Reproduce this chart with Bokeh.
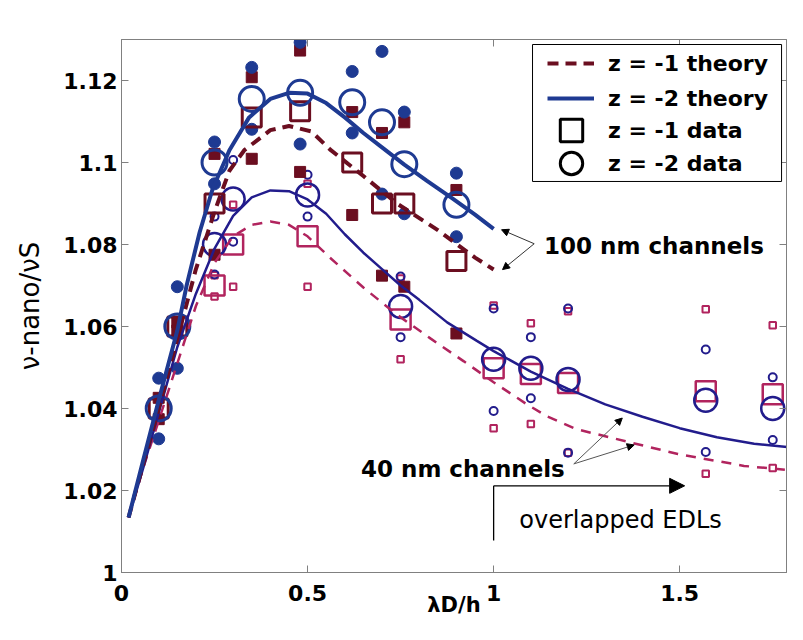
from bokeh.plotting import figure
from bokeh.models import (Range1d, FixedTicker, LinearAxis, Legend, LegendItem,
                          Label, Arrow, NormalHead, BoxAnnotation)
from bokeh.embed import file_html
from bokeh.resources import INLINE

# ---------------- data ----------------
x_ticks = [0, 0.5, 1, 1.5]
x_tick_labels = ["0", "0.5", "1", "1.5"]
y_ticks = [1.0, 1.02, 1.04, 1.06, 1.08, 1.1, 1.12]
y_tick_labels = ["1", "1.02", "1.04", "1.06", "1.08", "1.1", "1.12"]

# 100 nm channels
x_100 = [0.10, 0.15, 0.25, 0.35, 0.48, 0.62, 0.70, 0.76, 0.90]
z1_100_mean = [1.040, 1.060, 1.090, 1.111, 1.1125, 1.100, 1.090, 1.090, 1.076]
z2_100_mean = [1.040, 1.060, 1.100, 1.1155, 1.117, 1.1147, 1.1098, 1.0996, 1.0897]
z1_100_hi = [1.0426, 1.061, 1.1021, 1.1208, 1.1273, 1.1123, 1.1072, 1.1098, 1.0933]
z1_100_lo = [1.0374, 1.059, 1.0775, 1.1009, 1.0977, 1.0872, 1.0724, 1.0697, 1.0583]
z2_100_hi = [1.0474, 1.0697, 1.105, 1.1232, 1.1293, 1.1222, 1.1271, 1.1123, 1.0974]
z2_100_lo = [1.0326, 1.0498, 1.0948, 1.1081, 1.1045, 1.1072, 1.0923, 1.0875, 1.0819]

# 40 nm channels
x_40 = [0.25, 0.30, 0.50, 0.75, 1.0, 1.1, 1.2, 1.57, 1.75]
z1_40_mean = [1.070, 1.080, 1.082, 1.0617, 1.0498, 1.0484, 1.0462, 1.0442, 1.0435]
z2_40_mean = [1.080, 1.0911, 1.0921, 1.0649, 1.052, 1.0498, 1.0471, 1.042, 1.040]
z1_40_hi = [1.0725, 1.0897, 1.0948, 1.0717, 1.0651, 1.0608, 1.0637, 1.0642, 1.0603]
z1_40_lo = [1.0673, 1.0697, 1.0697, 1.052, 1.0352, 1.0362, 1.0292, 1.0241, 1.0255]
z2_40_hi = [1.0868, 1.1006, 1.097, 1.0722, 1.0644, 1.0574, 1.0644, 1.0544, 1.0476]
z2_40_lo = [1.0727, 1.0807, 1.0868, 1.0574, 1.0394, 1.0425, 1.0292, 1.0294, 1.0323]

# theory curves
th2_100_x = [0.019, 0.06, 0.10, 0.15, 0.175, 0.21, 0.245, 0.29, 0.343, 0.40, 0.45,
             0.50, 0.55, 0.60, 0.65, 0.70, 0.76, 0.82, 0.89, 0.95, 1.0]
th2_100_y = [1.0134, 1.028, 1.042, 1.059, 1.070, 1.083, 1.0936, 1.103, 1.111, 1.1155, 1.1170,
             1.1168, 1.1145, 1.1110, 1.1072, 1.1037, 1.0995, 1.0956, 1.0912, 1.0873, 1.0838]
th1_100_x = [0.019, 0.06, 0.10, 0.15, 0.20, 0.25, 0.29, 0.33, 0.40, 0.45, 0.51,
             0.56, 0.65, 0.74, 0.85, 0.95, 1.0]
th1_100_y = [1.0134, 1.027, 1.040, 1.057, 1.074, 1.088, 1.098, 1.103, 1.1079, 1.1089, 1.1076,
             1.1032, 1.0967, 1.0900, 1.0835, 1.0768, 1.0739]
th2_40_x = [0.019, 0.06, 0.10, 0.15, 0.20, 0.25, 0.30, 0.35, 0.40, 0.45, 0.50, 0.55, 0.60,
            0.65, 0.70, 0.75, 0.80, 0.875, 0.955, 1.0, 1.1, 1.2, 1.3, 1.4, 1.5, 1.6, 1.7, 1.8]
th2_40_y = [1.0134, 1.026, 1.039, 1.055, 1.068, 1.0790, 1.0870, 1.0915, 1.0932, 1.0930, 1.0910,
            1.0875, 1.0825, 1.0780, 1.0740, 1.0700, 1.0665, 1.0610, 1.0565, 1.0540, 1.0490,
            1.0448, 1.0410, 1.0380, 1.0352, 1.0330, 1.0314, 1.0305]
th1_40_x = [0.019, 0.06, 0.10, 0.15, 0.20, 0.25, 0.30, 0.35, 0.40, 0.45, 0.50, 0.56, 0.65,
            0.74, 0.83, 0.92, 1.0, 1.088, 1.141, 1.221, 1.319, 1.495, 1.673, 1.80]
th1_40_y = [1.0134, 1.026, 1.037, 1.051, 1.065, 1.0755, 1.0820, 1.0848, 1.0856, 1.0848, 1.0820,
            1.0768, 1.0695, 1.0629, 1.0571, 1.0515, 1.0464, 1.0411, 1.0382, 1.0350, 1.0328,
            1.0289, 1.0260, 1.0249]

# ---------------- styles ----------------
MAROON = "#6B0E20"
BLUE = "#1E3A92"
NAVY = "#221C8C"
CRIMSON = "#B1245E"
GRAY = "#808080"
FONT = "DejaVu Sans"

p = figure(width=787, height=624, output_backend="svg", toolbar_location=None,
           x_range=Range1d(0, 1.787), y_range=Range1d(1.0, 1.13),
           min_border_left=121, min_border_right=1, min_border_top=39,
           min_border_bottom=52)
p.xgrid.visible = False
p.ygrid.visible = False
p.outline_line_color = GRAY
p.background_fill_color = "white"
p.border_fill_color = "white"


def style_axis(ax, ticks, labels=None):
    ax.ticker = FixedTicker(ticks=ticks)
    ax.axis_line_color = GRAY
    ax.major_tick_line_color = GRAY
    ax.major_tick_in = 7
    ax.major_tick_out = 0
    ax.minor_tick_line_color = None
    if labels is None:
        ax.major_label_overrides = {t: "" for t in ticks}
        ax.major_label_standoff = 0
    else:
        ax.major_label_overrides = dict(zip(ticks, labels))
        ax.major_label_text_font = FONT
        ax.major_label_text_font_style = "bold"
        ax.major_label_text_font_size = "22px"
        ax.major_label_text_color = "black"


xb = p.below[0]
style_axis(xb, x_ticks, x_tick_labels)
xb.major_label_standoff = 12
xb.axis_label = "λD/h"
xb.axis_label_text_font = FONT
xb.axis_label_text_font_style = "bold"
xb.axis_label_text_font_size = "21px"
xb.axis_label_text_color = "black"
xb.axis_label_standoff = -11

yl = p.left[0]
style_axis(yl, y_ticks, y_tick_labels)
yl.major_label_standoff = 4
yl.axis_label = "ν-nano/νS"
yl.axis_label_text_font = FONT
yl.axis_label_text_font_style = "normal"
yl.axis_label_text_font_size = "26px"
yl.axis_label_text_color = "black"
yl.axis_label_standoff = 15

ax_top = LinearAxis()
style_axis(ax_top, x_ticks)
p.add_layout(ax_top, "above")
ax_right = LinearAxis()
style_axis(ax_right, y_ticks)
p.add_layout(ax_right, "right")

# legend sample glyphs: the square is hidden, the ring is tiny and lies under a filled dot
r_sq = p.rect(x=x_100[:1], y=z1_100_mean[:1], width=10, height=10,
              width_units="screen", height_units="screen",
              fill_color=None, line_color="black", line_width=3, visible=False)
r_ci = p.ellipse(x=x_100[3:4], y=z2_100_hi[3:4], width=1, height=1,
                 width_units="screen", height_units="screen",
                 fill_color=None, line_color="black", line_width=3)

# ---------------- 40 nm data ----------------
p.scatter(x_40 + x_40, z1_40_hi + z1_40_lo, marker="square", size=6.5,
          fill_color=None, line_color=CRIMSON, line_width=2)
p.scatter(x_40 + x_40, z2_40_hi + z2_40_lo, marker="circle", size=8,
          fill_color=None, line_color=NAVY, line_width=2)
p.scatter(x_40, z1_40_mean, marker="square", size=20, fill_color=None,
          line_color=CRIMSON, line_width=2.5)
p.scatter(x_40, z2_40_mean, marker="circle", size=23, fill_color=None,
          line_color=NAVY, line_width=2.5)

# ---------------- 100 nm data ----------------
p.scatter(x_100 + x_100, z1_100_hi + z1_100_lo, marker="square", size=11,
          fill_color=MAROON, line_color=MAROON)
p.scatter(x_100 + x_100, z2_100_hi + z2_100_lo, marker="circle", size=12,
          fill_color=BLUE, line_color=BLUE)
p.scatter(x_100, z1_100_mean, marker="square", size=19, fill_color=None,
          line_color=MAROON, line_width=3)
p.scatter(x_100, z2_100_mean, marker="circle", size=25, fill_color=None,
          line_color=BLUE, line_width=3)

# ---------------- theory ----------------
p.line(th1_40_x, th1_40_y, line_color=CRIMSON, line_width=2.5, line_dash="10 8")
p.line(th2_40_x, th2_40_y, line_color=NAVY, line_width=2.5)
r_th1 = p.line(th1_100_x, th1_100_y, line_color=MAROON, line_width=4, line_dash="11 7")
r_th2 = p.line(th2_100_x, th2_100_y, line_color=BLUE, line_width=4)

# ---------------- annotations ----------------
p.add_layout(Label(x=1.1356, y=1.0797, text="100 nm channels", text_font=FONT,
                   text_font_style="bold", text_font_size="23px",
                   text_baseline="alphabetic", text_color="black"))
for xe, ye in [(1.0213, 1.0836), (1.0239, 1.07388)]:
    p.add_layout(Arrow(x_start=1.1090, y_start=1.08019, x_end=xe, y_end=ye,
                       line_color="#333333", line_width=1,
                       end=NormalHead(size=7, fill_color="black", line_color="black")))

p.add_layout(Label(x=0.6436, y=1.0253, text="40 nm channels", text_font=FONT,
                   text_font_style="bold", text_font_size="23px",
                   text_baseline="alphabetic", text_color="black"))
for xe, ye in [(1.3457, 1.03767), (1.3777, 1.03111)]:
    p.add_layout(Arrow(x_start=1.2154, y_start=1.02649, x_end=xe, y_end=ye,
                       line_color="#555555", line_width=1,
                       end=NormalHead(size=7, fill_color="black", line_color="black")))

p.add_layout(Arrow(x_start=1.0, y_start=1.02114, x_end=1.5133, y_end=1.02114,
                   line_color="black", line_width=1.3,
                   end=NormalHead(size=15, fill_color="black", line_color="black")))
p.add_layout(Arrow(x_start=1.0, y_start=1.02114, x_end=1.0, y_end=1.00778,
                   line_color="black", line_width=1.3, end=None))
p.add_layout(Label(x=1.0691, y=1.0129, text="overlapped EDLs", text_font=FONT,
                   text_font_size="24px", text_baseline="alphabetic", text_color="black"))

# legend frame and legends
p.add_layout(BoxAnnotation(left=1.1045, right=1.7737, bottom=1.09537, top=1.12878,
                           fill_color="white", fill_alpha=1.0,
                           line_color="black", line_width=1, line_alpha=1.0))


def make_legend(items, loc, gw, gh, spacing, standoff):
    lg = Legend(items=items, location=loc)
    lg.label_text_font = FONT
    lg.label_text_font_style = "bold"
    lg.label_text_font_size = "22px"
    lg.label_text_color = "black"
    lg.glyph_width = gw
    lg.glyph_height = gh
    lg.label_height = gh
    lg.spacing = spacing
    lg.padding = 0
    lg.margin = 0
    lg.label_standoff = standoff
    lg.border_line_color = None
    lg.background_fill_alpha = 0
    return lg


p.add_layout(make_legend([LegendItem(label="z = -1 theory", renderers=[r_th1]),
                          LegendItem(label="z = -2 theory", renderers=[r_th2])],
                         (426, 461), 47, 26, 9, 14))
p.add_layout(make_legend([LegendItem(label="z = -1 data", renderers=[r_sq]),
                          LegendItem(label="z = -2 data", renderers=[r_ci])],
                         (436, 395), 28, 28, 5, 23))

open("out.html", "w").write(file_html(p, INLINE))
